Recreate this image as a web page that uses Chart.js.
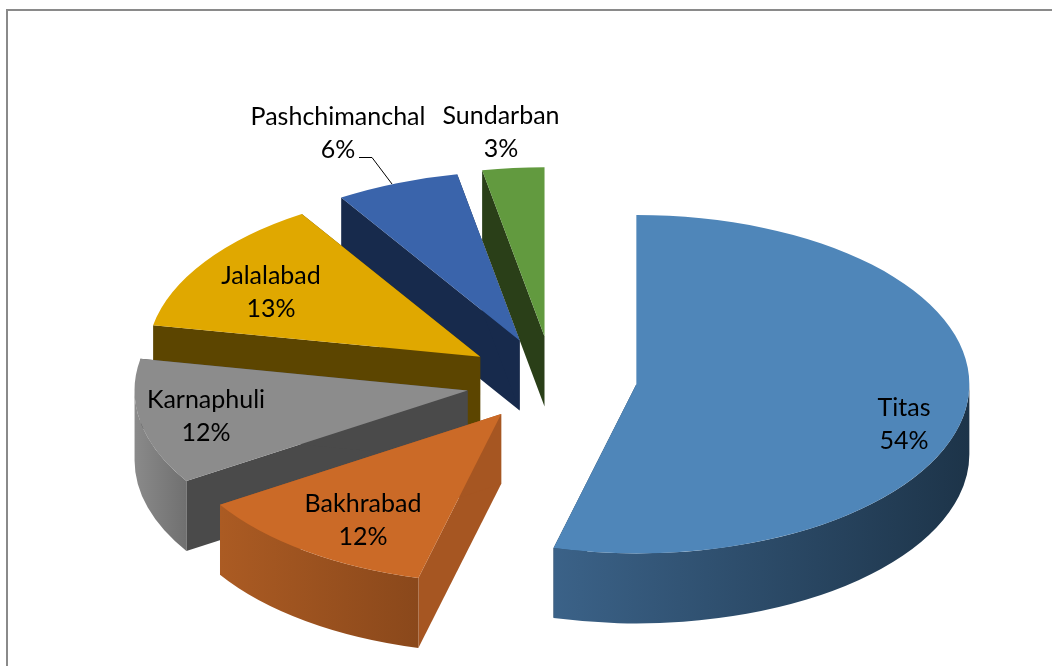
<!DOCTYPE html>
<html>
<head>
<meta charset="utf-8">
<title>Market share</title>
<script src="https://cdn.jsdelivr.net/npm/chart.js@4/dist/chart.umd.min.js"></script>
<style>
html, body { margin: 0; padding: 0; background: #fff; }
#frame { position: absolute; left: 6px; top: 9px; width: 1060px; height: 670px; border-left: 2px solid #8a8a8a; border-top: 2px solid #8a8a8a; }
canvas { position: absolute; left: 0; top: 0; }
</style>
</head>
<body>
<div id="frame"></div>
<canvas id="pieChart" width="1052" height="666"></canvas>
<script>
// Chart values
const categories = ['Titas', 'Bakhrabad', 'Karnaphuli', 'Jalalabad', 'Pashchimanchal', 'Sundarban'];
const shares = [54, 12, 12, 13, 6, 3];

// Look of the slices, same order as categories
const topColors = ['#4f86b9', '#cb6a27', '#8c8c8c', '#e0a800', '#3a64ab', '#629a3f'];
const wallColors = [['#3b6288', '#1d3449'], ['#ab5b23', '#8a481b'], ['#8a8a8a', '#707070'], ['#5c4500', '#5c4500'], ['#172a4c', '#172a4c'], ['#2a3f18', '#2a3f18']];
const faceColors = ['#1d3449', '#a65622', '#4a4a4a', '#5c4500', '#172a4c', '#2a3f18'];
const explode = [82, 95, 88, 88, 88, 90];
const nudge = [[0, 1], [2, -3], [-1, 4], [-2, 4], [-3, 4], [-2, 4]];
const labelSpots = [[904, 424], [363, 520], [206, 416], [271, 292], [338, 133], [501, 132]];
const drawOrder = [5, 4, 3, 2, 1, 0];

const squash = 0.508;
const depth = 70;

// Sector outline points on the tilted plane
function pointOn(cx, cy, r, angle) {
    return [cx + Math.cos(angle) * r, cy + Math.sin(angle) * r * squash];
}

function drawFace(ctx, cx, cy, r, angle, color) {
    const p = pointOn(cx, cy, r, angle);
    ctx.fillStyle = color;
    ctx.beginPath();
    ctx.moveTo(cx, cy);
    ctx.lineTo(p[0], p[1]);
    ctx.lineTo(p[0], p[1] + depth);
    ctx.lineTo(cx, cy + depth);
    ctx.closePath();
    ctx.fill();
}

function drawWall(ctx, cx, cy, r, start, end, colors) {
    // only the front half of the rim can be seen
    const from = Math.max(start, 0);
    const to = Math.min(end, Math.PI);
    if (to <= from) return;
    const left = pointOn(cx, cy, r, to)[0];
    const right = pointOn(cx, cy, r, from)[0];
    const gradient = ctx.createLinearGradient(left, 0, right, 0);
    gradient.addColorStop(0, colors[0]);
    gradient.addColorStop(1, colors[1]);
    ctx.fillStyle = gradient;
    ctx.beginPath();
    ctx.ellipse(cx, cy, r, r * squash, 0, from, to);
    ctx.ellipse(cx, cy + depth, r, r * squash, 0, to, from, true);
    ctx.closePath();
    ctx.fill();
}

const tiltedPie = {
    id: 'tiltedPie',
    beforeDatasetsDraw(chart) {
        const ctx = chart.ctx;
        const arcs = chart.getDatasetMeta(0).data;
        drawOrder.forEach(i => {
            const arc = arcs[i];
            const mid = (arc.startAngle + arc.endAngle) / 2;
            const cx = arc.x + Math.cos(mid) * explode[i] + nudge[i][0];
            const cy = arc.y + Math.sin(mid) * explode[i] * squash + nudge[i][1];
            drawFace(ctx, cx, cy, arc.outerRadius, arc.startAngle, faceColors[i]);
            drawFace(ctx, cx, cy, arc.outerRadius, arc.endAngle, faceColors[i]);
            drawWall(ctx, cx, cy, arc.outerRadius, arc.startAngle, arc.endAngle, wallColors[i]);

            ctx.save();
            ctx.translate(cx, cy);
            ctx.scale(1, squash);
            ctx.translate(-arc.x, -arc.y);
            arc.draw(ctx);
            ctx.restore();
        });
        return false;
    },
    afterDraw(chart) {
        const ctx = chart.ctx;
        ctx.save();
        ctx.fillStyle = '#000';
        ctx.font = '25px Lato';
        ctx.textAlign = 'center';
        ctx.textBaseline = 'middle';
        categories.forEach((name, i) => {
            ctx.fillText(name, labelSpots[i][0], labelSpots[i][1] - 16);
            ctx.fillText(shares[i] + '%', labelSpots[i][0], labelSpots[i][1] + 17);
        });
        // Leader line for the Pashchimanchal label
        ctx.strokeStyle = '#000';
        ctx.lineWidth = 1;
        ctx.beginPath();
        ctx.moveTo(359, 157.5);
        ctx.lineTo(372, 157.5);
        ctx.lineTo(392, 184);
        ctx.stroke();
        ctx.restore();
    }
};

document.addEventListener('DOMContentLoaded', function () {
    const canvas = document.getElementById('pieChart');
    new Chart(canvas.getContext('2d'), {
        type: 'pie',
        data: {
            labels: categories,
            datasets: [{
                data: shares,
                backgroundColor: topColors,
                borderWidth: 0
            }]
        },
        options: {
            responsive: false,
            animation: false,
            radius: 333,
            layout: { padding: { left: 58, top: 90 } },
            plugins: {
                legend: { display: false },
                tooltip: { enabled: false }
            }
        },
        plugins: [tiltedPie]
    });
});
</script>
</body>
</html>
